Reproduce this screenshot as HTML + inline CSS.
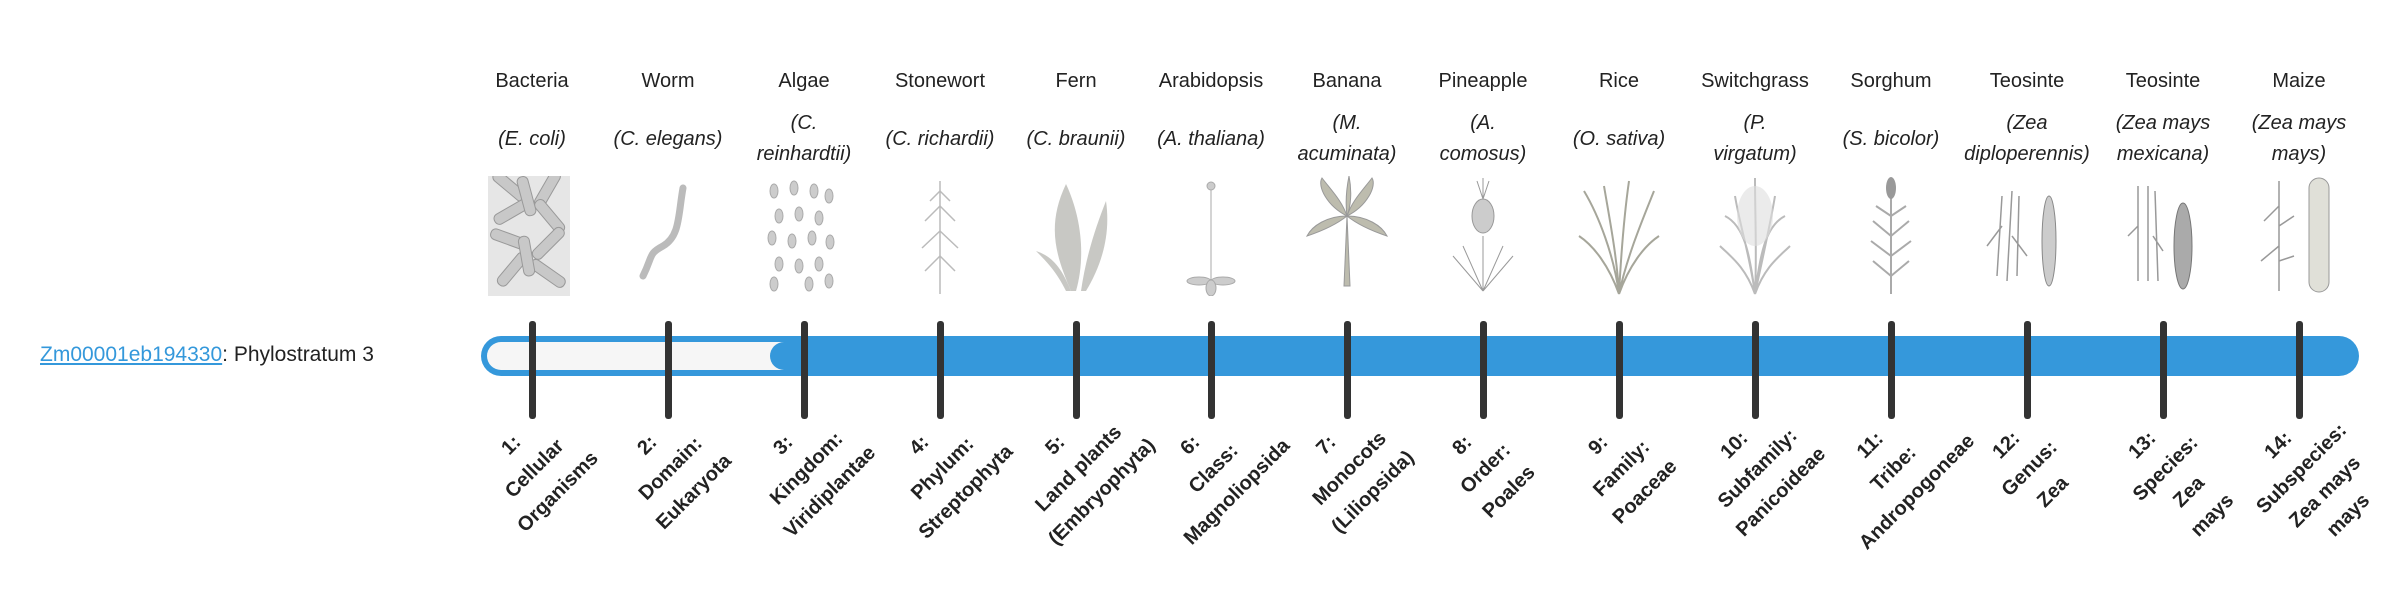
<!DOCTYPE html>
<html><head><meta charset="utf-8"><style>
body{margin:0;width:2400px;height:580px;background:#fff;position:relative;overflow:hidden;font-family:"Liberation Sans",sans-serif;color:#222}
.nm{position:absolute;top:66px;width:136px;text-align:center;font-size:20px;line-height:30px}
.sp{position:absolute;top:108px;height:62px;width:150px;display:flex;align-items:center;justify-content:center;text-align:center;font-style:italic;font-size:20px;line-height:31px}
.tk{position:absolute;top:321px;width:7px;height:98px;background:#333;border-radius:3px}
.lb{position:absolute;top:434px;width:220px;text-align:center;font-weight:bold;font-size:20px;line-height:33px;transform:rotate(-45deg);transform-origin:50% 0;white-space:nowrap;color:#222}
svg.im{position:absolute;top:176px}
</style></head><body>
<div style="position:absolute;left:40px;top:340px;font-size:21px;line-height:30px"><span style="color:#3498db;text-decoration:underline">Zm00001eb194330</span>: Phylostratum 3</div>
<div style="position:absolute;left:481px;top:336px;width:1878px;height:40px;border-radius:20px;background:#3598db"></div>
<div style="position:absolute;left:487px;top:342px;width:300px;height:28px;border-radius:14px 0 0 14px;background:#f6f6f6"></div>
<div style="position:absolute;left:770px;top:342px;width:40px;height:28px;border-radius:14px 0 0 14px;background:#3598db"></div>

<div class="nm" style="left:464px">Bacteria</div><div class="sp" style="left:457px">(E. coli)</div>
<div class="nm" style="left:600px">Worm</div><div class="sp" style="left:593px">(C. elegans)</div>
<div class="nm" style="left:736px">Algae</div><div class="sp" style="left:729px">(C.<br>reinhardtii)</div>
<div class="nm" style="left:872px">Stonewort</div><div class="sp" style="left:865px">(C. richardii)</div>
<div class="nm" style="left:1008px">Fern</div><div class="sp" style="left:1001px">(C. braunii)</div>
<div class="nm" style="left:1143px">Arabidopsis</div><div class="sp" style="left:1136px">(A. thaliana)</div>
<div class="nm" style="left:1279px">Banana</div><div class="sp" style="left:1272px">(M.<br>acuminata)</div>
<div class="nm" style="left:1415px">Pineapple</div><div class="sp" style="left:1408px">(A.<br>comosus)</div>
<div class="nm" style="left:1551px">Rice</div><div class="sp" style="left:1544px">(O. sativa)</div>
<div class="nm" style="left:1687px">Switchgrass</div><div class="sp" style="left:1680px">(P.<br>virgatum)</div>
<div class="nm" style="left:1823px">Sorghum</div><div class="sp" style="left:1816px">(S. bicolor)</div>
<div class="nm" style="left:1959px">Teosinte</div><div class="sp" style="left:1952px">(Zea<br>diploperennis)</div>
<div class="nm" style="left:2095px">Teosinte</div><div class="sp" style="left:2088px">(Zea mays<br>mexicana)</div>
<div class="nm" style="left:2231px">Maize</div><div class="sp" style="left:2224px">(Zea mays<br>mays)</div>

<!-- images -->
<svg class="im" style="left:482px" width="100" height="120"><g fill="#c8c8c8" stroke="#999" stroke-width="1">
<rect x="6" y="0" width="82" height="120" fill="#e6e6e6" stroke="none"/>
<g><rect x="8" y="5" width="40" height="11" rx="5" transform="rotate(40 28 10)"/><rect x="45" y="8" width="40" height="11" rx="5" transform="rotate(-60 65 13)"/><rect x="10" y="30" width="40" height="11" rx="5" transform="rotate(-30 30 35)"/><rect x="48" y="35" width="40" height="11" rx="5" transform="rotate(50 68 40)"/><rect x="8" y="58" width="40" height="11" rx="5" transform="rotate(20 28 63)"/><rect x="46" y="62" width="40" height="11" rx="5" transform="rotate(-45 66 67)"/><rect x="10" y="88" width="40" height="11" rx="5" transform="rotate(-50 30 93)"/><rect x="46" y="92" width="40" height="11" rx="5" transform="rotate(35 66 97)"/><rect x="25" y="75" width="40" height="11" rx="5" transform="rotate(80 45 80)"/><rect x="25" y="15" width="40" height="11" rx="5" transform="rotate(75 45 20)"/></g></g></svg>
<svg class="im" style="left:618px" width="100" height="120"><path d="M65 12 C60 40 62 60 45 70 C30 78 35 80 25 100" fill="none" stroke="#bbb" stroke-width="7" stroke-linecap="round"/></svg>
<svg class="im" style="left:754px" width="100" height="120"><g fill="#ccc" stroke="#aaa"><ellipse cx="20" cy="15" rx="4" ry="7"/><ellipse cx="40" cy="12" rx="4" ry="7"/><ellipse cx="60" cy="15" rx="4" ry="7"/><ellipse cx="75" cy="20" rx="4" ry="7"/><ellipse cx="25" cy="40" rx="4" ry="7"/><ellipse cx="45" cy="38" rx="4" ry="7"/><ellipse cx="65" cy="42" rx="4" ry="7"/><ellipse cx="18" cy="62" rx="4" ry="7"/><ellipse cx="38" cy="65" rx="4" ry="7"/><ellipse cx="58" cy="62" rx="4" ry="7"/><ellipse cx="76" cy="66" rx="4" ry="7"/><ellipse cx="25" cy="88" rx="4" ry="7"/><ellipse cx="45" cy="90" rx="4" ry="7"/><ellipse cx="65" cy="88" rx="4" ry="7"/><ellipse cx="20" cy="108" rx="4" ry="7"/><ellipse cx="55" cy="108" rx="4" ry="7"/><ellipse cx="75" cy="105" rx="4" ry="7"/></g></svg>
<svg class="im" style="left:890px" width="100" height="120"><g stroke="#bbb" fill="none" stroke-width="1.5"><path d="M50 5 V118"/><path d="M50 30 L35 45 M50 30 L65 45 M50 55 L32 72 M50 55 L68 72 M50 80 L35 95 M50 80 L65 95 M50 15 L40 25 M50 15 L60 25"/></g></svg>
<svg class="im" style="left:1026px" width="100" height="120"><g fill="#c8c8c4"><path d="M45 115 C30 80 20 50 40 8 C55 40 60 80 50 115Z"/><path d="M55 115 C60 80 70 50 80 25 C85 60 75 90 60 115Z"/><path d="M40 115 C30 95 20 85 10 75 C25 80 35 90 45 115Z"/></g></svg>
<svg class="im" style="left:1161px" width="100" height="120"><g stroke="#aaa" fill="#ccc"><path d="M50 110 V10" fill="none"/><ellipse cx="38" cy="105" rx="12" ry="4"/><ellipse cx="62" cy="105" rx="12" ry="4"/><ellipse cx="50" cy="112" rx="5" ry="8"/><circle cx="50" cy="10" r="4"/></g></svg>
<svg class="im" style="left:1297px" width="100" height="120"><g fill="#bdbcae" stroke="#999"><path d="M47 110 L50 40 L53 110Z"/><path d="M50 40 C30 30 20 10 25 2 C35 15 45 25 50 40Z"/><path d="M50 40 C70 30 80 10 75 2 C65 15 55 25 50 40Z"/><path d="M50 40 C30 40 15 50 10 60 C25 55 40 48 50 40Z"/><path d="M50 40 C70 40 85 50 90 60 C75 55 60 48 50 40Z"/><path d="M50 40 C48 25 50 10 52 0 C55 15 54 30 50 40Z"/></g></svg>
<svg class="im" style="left:1433px" width="100" height="120"><g stroke="#999" fill="#ccc"><ellipse cx="50" cy="40" rx="11" ry="17"/><path d="M50 23 L44 5 M50 23 L56 5 M50 23 L50 2" fill="none"/><path d="M50 115 L20 80 M50 115 L80 80 M50 115 L30 70 M50 115 L70 70 M50 115 V60" fill="none"/></g></svg>
<svg class="im" style="left:1569px" width="100" height="120"><g stroke="#a6a69a" fill="none" stroke-width="2"><path d="M50 118 C45 80 30 40 15 15 M50 118 C52 80 55 40 60 5 M50 118 C58 80 75 40 85 15 M50 118 C40 90 25 70 10 60 M50 118 C60 90 75 70 90 60 M50 118 C48 80 40 40 35 10"/></g></svg>
<svg class="im" style="left:1705px" width="100" height="120"><g stroke="#bbb" fill="none" stroke-width="2"><path d="M50 118 C45 80 35 50 30 20 M50 118 C52 80 50 40 50 2 M50 118 C58 80 65 50 70 20 M50 118 C40 90 25 80 15 70 M50 118 C60 90 75 80 85 70 M50 118 C45 80 40 50 20 40 M50 118 C55 80 60 50 80 40"/></g><ellipse cx="50" cy="40" rx="18" ry="30" fill="#ddd" opacity=".6"/></svg>
<svg class="im" style="left:1841px" width="100" height="120"><g stroke="#aaa" fill="none" stroke-width="2"><path d="M50 118 V15"/><path d="M50 100 L32 85 M50 100 L68 85 M50 80 L30 65 M50 80 L70 65 M50 60 L32 45 M50 60 L68 45 M50 40 L35 30 M50 40 L65 30"/></g><ellipse cx="50" cy="12" rx="5" ry="11" fill="#999"/></svg>
<svg class="im" style="left:1977px" width="100" height="120"><g stroke="#999" fill="none" stroke-width="1.5"><path d="M20 100 L25 20 M30 105 L35 15 M40 100 L42 20 M25 50 L10 70 M35 60 L50 80"/></g><ellipse cx="72" cy="65" rx="7" ry="45" fill="#ccc" stroke="#888"/></svg>
<svg class="im" style="left:2113px" width="100" height="120"><g stroke="#999" fill="none" stroke-width="1.5"><path d="M25 105 L25 10 M35 105 L35 10 M45 105 L42 15 M25 50 L15 60 M40 60 L50 75"/></g><ellipse cx="70" cy="70" rx="9" ry="43" fill="#aaa" stroke="#777"/></svg>
<svg class="im" style="left:2249px" width="100" height="120"><g stroke="#999" fill="none" stroke-width="1.5"><path d="M30 115 L30 5 M30 30 L15 45 M30 50 L45 40 M30 70 L12 85 M30 85 L45 80"/></g><rect x="60" y="2" width="20" height="114" rx="10" fill="#e0e0d8" stroke="#999"/></svg>

<div class="tk" style="left:529px"></div><div class="tk" style="left:665px"></div><div class="tk" style="left:801px"></div><div class="tk" style="left:937px"></div><div class="tk" style="left:1073px"></div><div class="tk" style="left:1208px"></div><div class="tk" style="left:1344px"></div><div class="tk" style="left:1480px"></div><div class="tk" style="left:1616px"></div><div class="tk" style="left:1752px"></div><div class="tk" style="left:1888px"></div><div class="tk" style="left:2024px"></div><div class="tk" style="left:2160px"></div><div class="tk" style="left:2296px"></div>

<div class="lb" style="left:390px">1:<br>Cellular<br>Organisms</div>
<div class="lb" style="left:526px">2:<br>Domain:<br>Eukaryota</div>
<div class="lb" style="left:662px">3:<br>Kingdom:<br>Viridiplantae</div>
<div class="lb" style="left:798px">4:<br>Phylum:<br>Streptophyta</div>
<div class="lb" style="left:934px">5:<br>Land plants<br>(Embryophyta)</div>
<div class="lb" style="left:1069px">6:<br>Class:<br>Magnoliopsida</div>
<div class="lb" style="left:1205px">7:<br>Monocots<br>(Liliopsida)</div>
<div class="lb" style="left:1341px">8:<br>Order:<br>Poales</div>
<div class="lb" style="left:1477px">9:<br>Family:<br>Poaceae</div>
<div class="lb" style="left:1613px">10:<br>Subfamily:<br>Panicoideae</div>
<div class="lb" style="left:1749px">11:<br>Tribe:<br>Andropogoneae</div>
<div class="lb" style="left:1885px">12:<br>Genus:<br>Zea</div>
<div class="lb" style="left:2021px">13:<br>Species:<br>Zea<br>mays</div>
<div class="lb" style="left:2157px">14:<br>Subspecies:<br>Zea mays<br>mays</div>
</body></html>
